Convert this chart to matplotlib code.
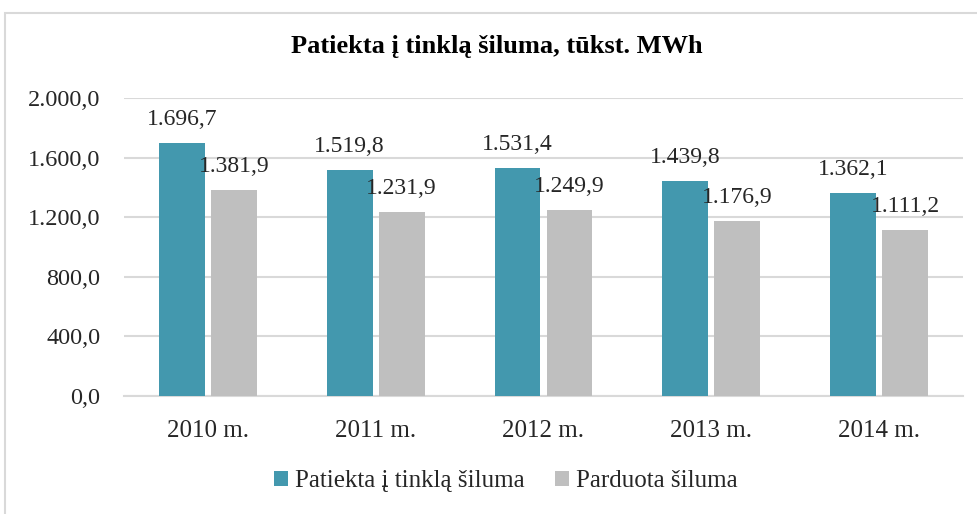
import matplotlib
matplotlib.use("Agg")
import matplotlib.pyplot as plt
from matplotlib.patches import Rectangle
import numpy as np

categories = ["2010 m.", "2011 m.", "2012 m.", "2013 m.", "2014 m."]
supplied = [1696.7, 1519.8, 1531.4, 1439.8, 1362.1]
sold = [1381.9, 1231.9, 1249.9, 1176.9, 1111.2]
series_names = ["Patiekta į tinklą šiluma", "Parduota šiluma"]
title = "Patiekta į tinklą šiluma, tūkst. MWh"
yticks = [0, 400, 800, 1200, 1600, 2000]

def fmt(v):
    s = f"{v:,.1f}"
    return s.replace(",", "X").replace(".", ",").replace("X", ".")

plt.rcParams['font.family'] = ['Liberation Serif', 'DejaVu Serif']

fig = plt.figure(figsize=(9.78, 5.14), dpi=100)
ax = fig.add_axes([124/978, 1-396/514, (963-124)/978, (396-98)/514])

# outer border
fig.patches.append(Rectangle((5/978, -0.1), 1.2, 1 - 13/514 + 0.1, transform=fig.transFigure,
                             fill=False, edgecolor="#D9D9D9", linewidth=1.5))

x = np.arange(len(categories))
w = 0.274
gap = 0.036
c1 = "#4398AE"
c2 = "#BFBFBF"
b1 = ax.bar(x - (w + gap) / 2, supplied, w, color=c1, label=series_names[0], zorder=3)
b2 = ax.bar(x + (w + gap) / 2, sold, w, color=c2, label=series_names[1], zorder=3)

for bars, vals in ((b1, supplied), (b2, sold)):
    for rect, v in zip(bars, vals):
        ax.annotate(fmt(v), (rect.get_x() + rect.get_width() / 2, v), xytext=(0, 18),
                    textcoords="offset pixels", ha="center", va="baseline",
                    fontsize=17, color="#262626", zorder=4)

ax.set_xlim(-0.5, len(categories) - 0.5)
ax.set_ylim(0, 2000)
ax.set_yticks(yticks)
ax.set_yticklabels([fmt(v) for v in yticks], fontsize=17.5, color="#262626")
ax.set_xticks(x)
ax.set_xticklabels(categories, fontsize=18, color="#262626")
ax.tick_params(axis="both", length=0)
ax.tick_params(axis="y", pad=17)
ax.tick_params(axis="x", pad=17)
ax.yaxis.grid(True, color="#D9D9D9", linewidth=1.5, zorder=0)
for s in ["top", "right", "left"]:
    ax.spines[s].set_visible(False)
ax.spines["bottom"].set_color("#D9D9D9")
ax.spines["bottom"].set_linewidth(1.5)

fig.text(497/978, 1 - 47/514, title, ha="center", va="center", fontsize=19,
         fontweight="bold", color="#000000")

fig.legend(handles=[b1, b2], labels=series_names, loc="center",
           bbox_to_anchor=(506/978, 1 - 481/514), ncol=2, frameon=False,
           fontsize=18, handlelength=0.55, handleheight=0.55, handletextpad=0.3,
           columnspacing=1.2, labelcolor="#262626")

fig.savefig("out.png", dpi=100)
